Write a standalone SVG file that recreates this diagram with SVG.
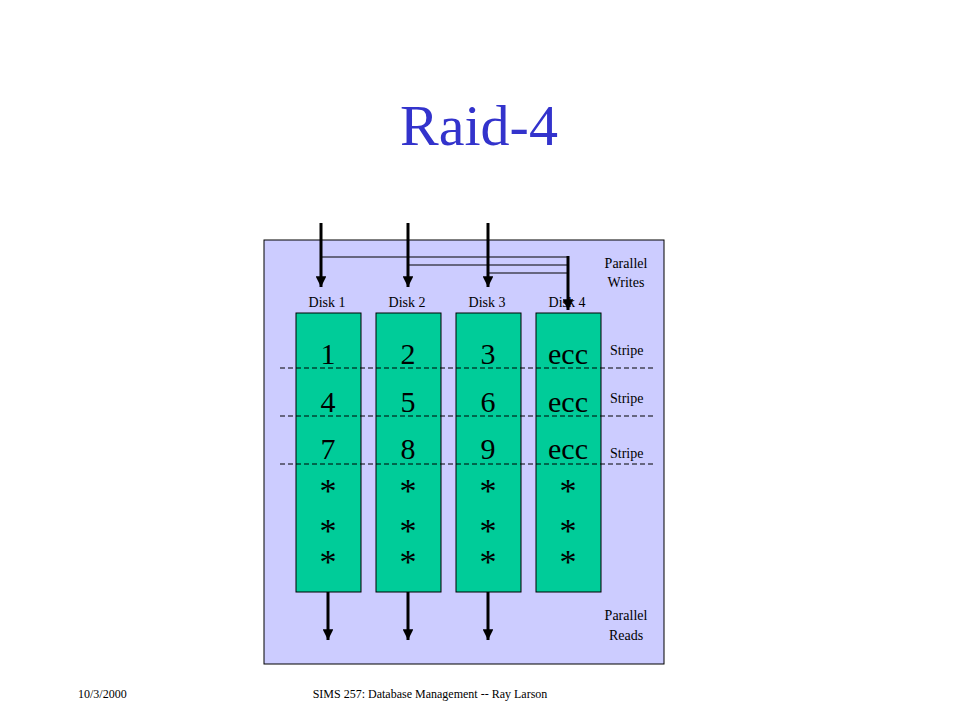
<svg xmlns="http://www.w3.org/2000/svg" width="960" height="720" viewBox="0 0 960 720">
<style>
.t{font-family:"Liberation Serif","Times New Roman",serif;fill:#000}
.sm{font-size:14px}
.big{font-size:30px;text-anchor:middle}
.ast{font-size:34px;text-anchor:middle}
.mid{text-anchor:middle}
.disk{fill:#00CC99;stroke:#000;stroke-width:1}
.thick{stroke:#000;stroke-width:3;fill:none}
.thin{stroke:#000;stroke-width:1;fill:none}
.dash{stroke:#000;stroke-width:1;stroke-dasharray:5,3;fill:none}
</style>
<defs>
<marker id="ah" viewBox="0 0 10 10" refX="10" refY="5" markerWidth="3.6" markerHeight="3.6" markerUnits="strokeWidth" orient="auto">
<path d="M0,0 L10,5 L0,10 z" fill="#000"/>
</marker>
</defs>
<rect width="960" height="720" fill="#fff"/>
<text class="t" x="479" y="145" font-size="58" text-anchor="middle" style="fill:#3333CC">Raid-4</text>
<g id="panel">
<rect x="264" y="240" width="400" height="424" fill="#CCCCFF" stroke="#000" stroke-width="1"/>
</g>
<g id="disk1">
<rect class="disk" x="296" y="313" width="65" height="279"/>
<text class="t sm mid" x="327" y="307">Disk 1</text>
<text class="t big" x="328" y="364">1</text>
<text class="t big" x="328" y="412">4</text>
<text class="t big" x="328" y="459">7</text>
<text class="t ast" x="328" y="502">*</text>
<text class="t ast" x="328" y="542">*</text>
<text class="t ast" x="328" y="573">*</text>
</g>
<g id="disk2">
<rect class="disk" x="376" y="313" width="65" height="279"/>
<text class="t sm mid" x="407" y="307">Disk 2</text>
<text class="t big" x="408" y="364">2</text>
<text class="t big" x="408" y="412">5</text>
<text class="t big" x="408" y="459">8</text>
<text class="t ast" x="408" y="502">*</text>
<text class="t ast" x="408" y="542">*</text>
<text class="t ast" x="408" y="573">*</text>
</g>
<g id="disk3">
<rect class="disk" x="456" y="313" width="65" height="279"/>
<text class="t sm mid" x="487" y="307">Disk 3</text>
<text class="t big" x="488" y="364">3</text>
<text class="t big" x="488" y="412">6</text>
<text class="t big" x="488" y="459">9</text>
<text class="t ast" x="488" y="502">*</text>
<text class="t ast" x="488" y="542">*</text>
<text class="t ast" x="488" y="573">*</text>
</g>
<g id="disk4">
<rect class="disk" x="536" y="313" width="65" height="279"/>
<text class="t sm mid" x="567" y="307">Disk 4</text>
<text class="t big" x="568" y="364">ecc</text>
<text class="t big" x="568" y="412">ecc</text>
<text class="t big" x="568" y="459">ecc</text>
<text class="t ast" x="568" y="502">*</text>
<text class="t ast" x="568" y="542">*</text>
<text class="t ast" x="568" y="573">*</text>
</g>
<g id="labels">
<text class="t sm mid" x="626" y="268">Parallel</text>
<text class="t sm mid" x="626" y="287">Writes</text>
<text class="t sm" x="610" y="355">Stripe</text>
<text class="t sm" x="610" y="403">Stripe</text>
<text class="t sm" x="610" y="458">Stripe</text>
<text class="t sm mid" x="626" y="620">Parallel</text>
<text class="t sm mid" x="626" y="640">Reads</text>
</g>
<g id="connectors">
<line class="dash" x1="280" y1="368" x2="656" y2="368"/>
<line class="dash" x1="280" y1="416" x2="656" y2="416"/>
<line class="dash" x1="280" y1="464" x2="656" y2="464"/>
<polyline class="thin" points="321,257 568,257"/>
<polyline class="thin" points="408,265 568,265"/>
<polyline class="thin" points="488,273 568,273"/>
<line class="thick" x1="321" y1="223" x2="321" y2="287" marker-end="url(#ah)"/>
<line class="thick" x1="408" y1="223" x2="408" y2="287" marker-end="url(#ah)"/>
<line class="thick" x1="488" y1="223" x2="488" y2="287" marker-end="url(#ah)"/>
<line class="thick" x1="568" y1="256" x2="568" y2="310" marker-end="url(#ah)"/>
<line class="thick" x1="328" y1="592" x2="328" y2="640" marker-end="url(#ah)"/>
<line class="thick" x1="408" y1="592" x2="408" y2="640" marker-end="url(#ah)"/>
<line class="thick" x1="488" y1="592" x2="488" y2="640" marker-end="url(#ah)"/>
</g>
<g id="footer">
<text class="t" x="78" y="698" font-size="12">10/3/2000</text>
<text class="t" x="430" y="698" font-size="12" text-anchor="middle">SIMS 257: Database Management -- Ray Larson</text>
</g>
</svg>
